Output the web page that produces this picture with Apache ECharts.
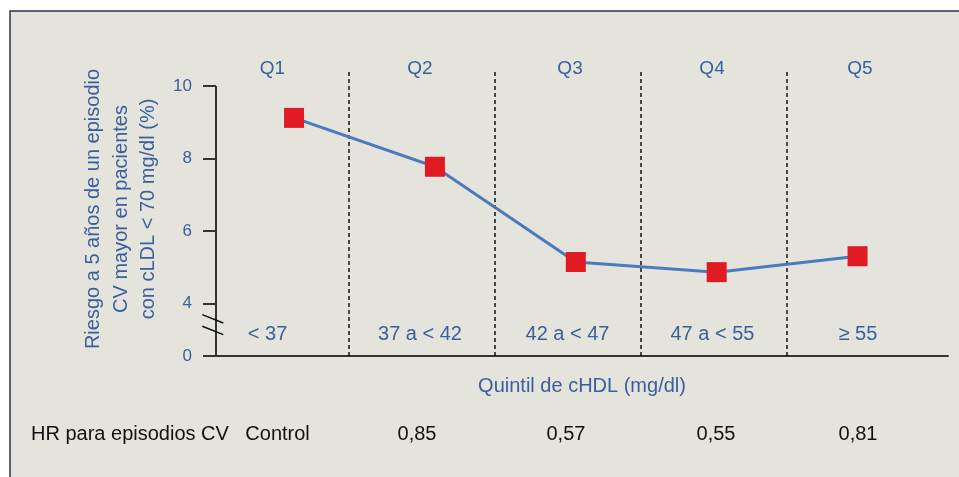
<!DOCTYPE html>
<html>
<head>
<meta charset="utf-8">
<script src="https://cdn.jsdelivr.net/npm/echarts@6/dist/echarts.min.js"></script>
<style>
html,body{margin:0;padding:0;background:#ffffff;}
#chart{width:959px;height:477px;}
</style>
</head>
<body>
<div id="chart"></div>
<script>
// ---- data ----
const categories = ['Q1', 'Q2', 'Q3', 'Q4', 'Q5'];
const ranges = ['< 37', '37 a < 42', '42 a < 47', '47 a < 55', '≥ 55'];
const riesgo = [9.12, 7.77, 5.14, 4.86, 5.30];
const hrLabels = ['Control', '0,85', '0,57', '0,55', '0,81'];
const yTickLabels = [0, 4, 6, 8, 10];

// ---- layout constants (axis coordinates) ----
const X_MIN = -0.554, X_MAX = 4.642;
const Y_MIN = 2.544, Y_MAX = 10.387;
const qPos = [-0.153, 0.894, 1.959, 2.967, 4.017];
const rangePos = [-0.188, 0.894, 1.941, 2.970, 4.003];
const hrPos = [-0.117, 0.873, 1.930, 2.995, 4.003];
const dividerPos = [0.385, 1.422, 2.458, 3.494];

const FONT = "'Liberation Sans', Arial, Helvetica, sans-serif";
const BLUE = '#3a5f9e';
const AXIS = '#333333';

const yTickValues = yTickLabels.map(t => (t === 0 ? Y_MIN : t));
const lineData = categories.map((c, i) => [i, riesgo[i]]);

function labelFrom(posArr, texts) {
  return function (v, i) {
    let k = posArr.indexOf(v);
    if (k < 0) k = i;
    return texts[k] != null ? texts[k] : '';
  };
}

const chart = echarts.init(document.getElementById('chart'), null, {renderer: 'canvas'});

const baseX = {
  type: 'value', min: X_MIN, max: X_MAX,
  splitLine: {show: false}, axisTick: {show: false}
};

chart.setOption({
  animation: false,
  backgroundColor: '#ffffff',
  grid: {left: 216, right: 11, top: 72, bottom: 121},
  xAxis: [
    Object.assign({}, baseX, {
      position: 'bottom',
      axisLine: {show: true, onZero: false, lineStyle: {color: AXIS, width: 2}},
      axisLabel: {
        inside: true, margin: 22, verticalAlign: 'middle',
        customValues: rangePos, formatter: labelFrom(rangePos, ranges),
        color: BLUE, fontSize: 20, fontFamily: FONT
      },
      name: 'Quintil de cHDL (mg/dl)', nameLocation: 'middle', nameGap: 30,
      nameTextStyle: {color: BLUE, fontSize: 20, fontFamily: FONT, verticalAlign: 'middle'}
    }),
    Object.assign({}, baseX, {
      position: 'top',
      axisLine: {show: false, onZero: false},
      axisLabel: {
        margin: 3, verticalAlign: 'middle',
        customValues: qPos, formatter: labelFrom(qPos, categories),
        color: BLUE, fontSize: 19, fontFamily: FONT
      }
    }),
    Object.assign({}, baseX, {
      position: 'bottom',
      axisLine: {show: false, onZero: false},
      axisLabel: {
        margin: 78, verticalAlign: 'middle',
        customValues: hrPos, formatter: labelFrom(hrPos, hrLabels),
        color: '#111111', fontSize: 20, fontFamily: FONT
      }
    })
  ],
  yAxis: {
    type: 'value', min: Y_MIN, max: Y_MAX,
    splitLine: {show: false},
    axisLine: {show: false, onZero: false},
    axisTick: {show: true, inside: false, length: 13, customValues: yTickValues,
      lineStyle: {color: AXIS, width: 2}},
    axisLabel: {
      margin: 24, customValues: yTickValues,
      formatter: v => (Math.abs(v - Y_MIN) < 1e-6 ? '0' : String(Math.round(v))),
      color: BLUE, fontSize: 17, fontFamily: FONT
    }
  },
  series: [{
    type: 'line',
    xAxisIndex: 0, yAxisIndex: 0,
    data: lineData,
    symbol: 'rect', symbolSize: 20,
    lineStyle: {color: '#4a7bbf', width: 3},
    itemStyle: {color: '#e01b24'},
    z: 5,
    markLine: {
      silent: true, symbol: ['none', 'none'], label: {show: false},
      animation: false,
      data: dividerPos.map(v => [
        {coord: [v, Y_MIN], lineStyle: {color: '#111', width: 1.5, type: [4, 3]}},
        {coord: [v, Y_MAX]}
      ]).concat([[
        {coord: [X_MIN, Y_MIN], lineStyle: {color: AXIS, width: 2, type: 'solid'}},
        {coord: [X_MIN, 10]}
      ]])
    }
  }]
});

// decorations: frame, titles, axis break marks
const bA = chart.convertToPixel({xAxisIndex: 0, yAxisIndex: 0}, [X_MIN, 3.57]);
const bB = chart.convertToPixel({xAxisIndex: 0, yAxisIndex: 0}, [X_MIN, 3.25]);
function slash(p, id) {
  return {
    type: 'line', id: id, z: 20,
    shape: {x1: p[0] - 13.7, y1: p[1] - 4.2, x2: p[0] + 7.3, y2: p[1] + 4.2},
    style: {stroke: '#111', lineWidth: 1.5}
  };
}
chart.setOption({
  graphic: [
    {type: 'rect', id: 'frame', z: -10, silent: true,
      shape: {x: 10, y: 11, width: 1000, height: 520},
      style: {fill: '#e5e4dc', stroke: '#2c3050', lineWidth: 1.5}},
    {type: 'text', id: 'ytitle', z: 10, x: 121, y: 209, rotation: Math.PI / 2,
      style: {text: 'Riesgo a 5 años de un episodio\nCV mayor en pacientes\ncon cLDL < 70 mg/dl (%)',
        fill: BLUE, font: '20px ' + FONT, align: 'center', verticalAlign: 'middle', lineHeight: 27.5}},
    {type: 'text', id: 'hrtitle', z: 10, x: 31, y: 434,
      style: {text: 'HR para episodios CV', fill: '#111111', font: '20px ' + FONT,
        align: 'left', verticalAlign: 'middle'}},
    slash(bA, 's1'),
    slash(bB, 's2')
  ]
});
</script>
</body>
</html>
